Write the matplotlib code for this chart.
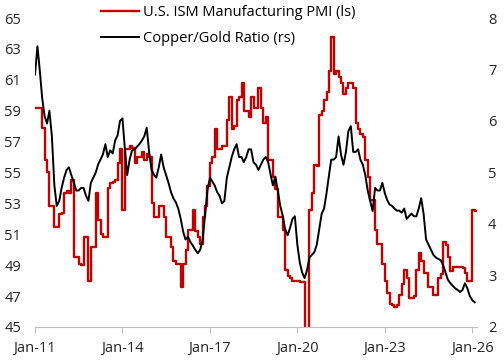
import pandas as pd
import matplotlib
matplotlib.use("Agg")
import matplotlib.pyplot as plt
import matplotlib.dates as mdates

plt.rcParams['font.family'] = ['Open Sans', 'DejaVu Sans']

# monthly dates Jan-2011 .. Feb-2026
dates = pd.date_range("2011-01-01", periods=182, freq="MS")

# U.S. ISM Manufacturing PMI (left scale)
pmi = [
    59.2, 59.2, 59.2, 57.9, 55.8, 55.0, 52.8, 52.8, 51.5, 51.5, 52.3, 52.4,
    53.7, 53.8, 53.7, 54.5, 49.5, 49.5, 49.1, 49.0, 50.8, 50.8, 48.0, 50.2,
    50.2, 53.7, 51.9, 51.0, 50.8, 50.8, 54.0, 54.3, 54.4, 54.5, 55.6, 56.5,
    52.6, 56.5, 56.5, 56.7, 56.6, 55.6, 56.0, 56.0, 56.3, 55.8, 56.2, 56.0,
    53.0, 52.1, 52.1, 52.8, 52.8, 52.1, 50.8, 50.8, 50.2, 49.3, 49.1, 49.1,
    47.6, 49.1, 50.0, 51.3, 51.3, 52.6, 51.2, 50.8, 50.4, 52.1, 52.8, 54.1,
    55.6, 56.0, 57.8, 56.5, 56.5, 56.7, 56.7, 58.4, 59.9, 57.8, 58.0, 59.7,
    59.9, 60.8, 59.0, 59.0, 58.6, 59.9, 59.2, 59.2, 60.5, 59.2, 58.2, 58.6,
    55.8, 55.8, 54.7, 53.9, 52.1, 52.1, 51.3, 48.7, 48.3, 48.2, 48.0, 48.0,
    48.0, 47.9, 47.9, 41.5, 43.1, 52.6, 53.7, 55.5, 55.4, 58.7, 59.0, 59.7,
    60.2, 61.6, 63.8, 61.4, 61.6, 61.2, 60.8, 60.1, 60.5, 60.8, 60.8, 60.5,
    58.2, 57.8, 57.5, 57.3, 55.8, 54.7, 53.2, 53.2, 51.3, 50.4, 50.4, 49.1,
    48.0, 47.2, 46.5, 46.4, 46.3, 46.4, 47.1, 47.8, 48.7, 48.2, 46.9, 46.9,
    47.0, 48.7, 49.8, 49.3, 48.5, 48.5, 47.6, 47.6, 47.1, 47.1, 48.2, 48.4,
    50.5, 50.3, 49.5, 48.6, 48.9, 48.9, 48.9, 48.9, 48.8, 48.5, 48.0, 48.0,
    52.6, 52.5,
]

# Copper/Gold ratio (right scale)
cu_au = [
    6.90, 7.45, 7.00, 6.45, 6.10, 5.95, 6.20, 5.70, 4.75, 4.35, 4.45, 4.70,
    4.90, 5.05, 5.10, 4.95, 4.80, 4.65, 4.65, 4.70, 4.70, 4.55, 4.45, 4.80,
    4.90, 5.00, 5.15, 5.25, 5.35, 5.55, 5.30, 5.43, 5.37, 5.62, 5.72, 6.00,
    6.05, 5.45, 4.95, 5.25, 5.43, 5.45, 5.50, 5.55, 5.62, 5.70, 5.87, 5.40,
    5.05, 4.95, 4.90, 5.10, 5.35, 5.10, 4.95, 4.80, 4.62, 4.50, 4.42, 4.30,
    4.10, 3.85, 3.70, 3.75, 3.65, 3.58, 3.50, 3.43, 3.50, 3.68, 4.17, 4.65,
    4.90, 4.82, 4.75, 4.62, 4.55, 4.40, 4.45, 4.90, 5.10, 5.30, 5.45, 5.55,
    5.30, 5.30, 5.20, 5.30, 5.45, 5.45, 5.20, 5.15, 5.05, 5.15, 5.25, 5.30,
    5.20, 4.95, 4.75, 4.92, 4.65, 4.35, 4.17, 3.90, 3.78, 3.92, 4.10, 4.15,
    3.60, 3.25, 3.06, 2.95, 3.10, 3.35, 3.40, 3.45, 3.60, 3.90, 4.20, 4.30,
    4.60, 4.95, 5.25, 5.25, 5.30, 5.70, 5.35, 5.15, 5.40, 5.80, 5.90, 5.40,
    5.40, 5.45, 5.25, 5.15, 4.95, 4.65, 4.45, 4.25, 4.70, 4.65, 4.65, 4.80,
    4.60, 4.46, 4.38, 4.35, 4.30, 4.26, 4.26, 4.22, 4.30, 4.10, 4.15, 4.20,
    4.15, 4.15, 4.30, 4.50, 4.20, 3.70, 3.60, 3.50, 3.40, 3.35, 3.32, 3.30,
    3.20, 3.05, 2.92, 2.85, 2.80, 2.75, 2.72, 2.68, 2.72, 2.85, 2.75, 2.60,
    2.52, 2.48,
]

end_date = pd.Timestamp("2026-03-01")
red = "#C00000"

fig = plt.figure(figsize=(5.04, 3.6), dpi=100)
ax = fig.add_axes([0.0694, 0.0917, 0.8770, 0.8583])
ax2 = ax.twinx()

# PMI as monthly steps, last value carried to the end of the month
x_steps = list(dates) + [end_date]
y_steps = pmi + [pmi[-1]]
l1, = ax.plot(x_steps, y_steps, drawstyle="steps-post", color=red, lw=1.7,
              label="U.S. ISM Manufacturing PMI (ls)")
l2, = ax2.plot(dates, cu_au, color="black", lw=1.4,
               label="Copper/Gold Ratio (rs)")

ax.set_xlim(pd.Timestamp("2011-01-01"), end_date)
ax.set_ylim(45, 65)
ax.set_yticks(range(45, 66, 2))
ax2.set_ylim(2, 8)
ax2.set_yticks(range(2, 9))

ticks = pd.date_range("2011-01-01", "2026-01-01", freq="36MS")
ax.set_xticks(ticks)
ax.xaxis.set_major_formatter(mdates.DateFormatter("%b-%y"))

for a in (ax, ax2):
    for s in ("top", "left", "right", "bottom"):
        a.spines[s].set_visible(False)
ax.spines["bottom"].set_visible(True)
ax.spines["bottom"].set_color("#BFBFBF")

ax.tick_params(axis="y", length=0, pad=10, labelsize=10.5, colors="#262626")
ax2.tick_params(axis="y", length=0, pad=8, labelsize=10.5, colors="#262626")
ax.tick_params(axis="x", length=4, color="#BFBFBF", pad=6, labelsize=10.5,
               labelcolor="#262626")

fig.legend(handles=[l1, l2], loc="upper left", bbox_to_anchor=(0.2, 0.985),
           frameon=False, fontsize=10.5, handlelength=2.6, handletextpad=0.3,
           labelspacing=0.7, borderaxespad=0, borderpad=0)

fig.savefig("out.png", dpi=100)
